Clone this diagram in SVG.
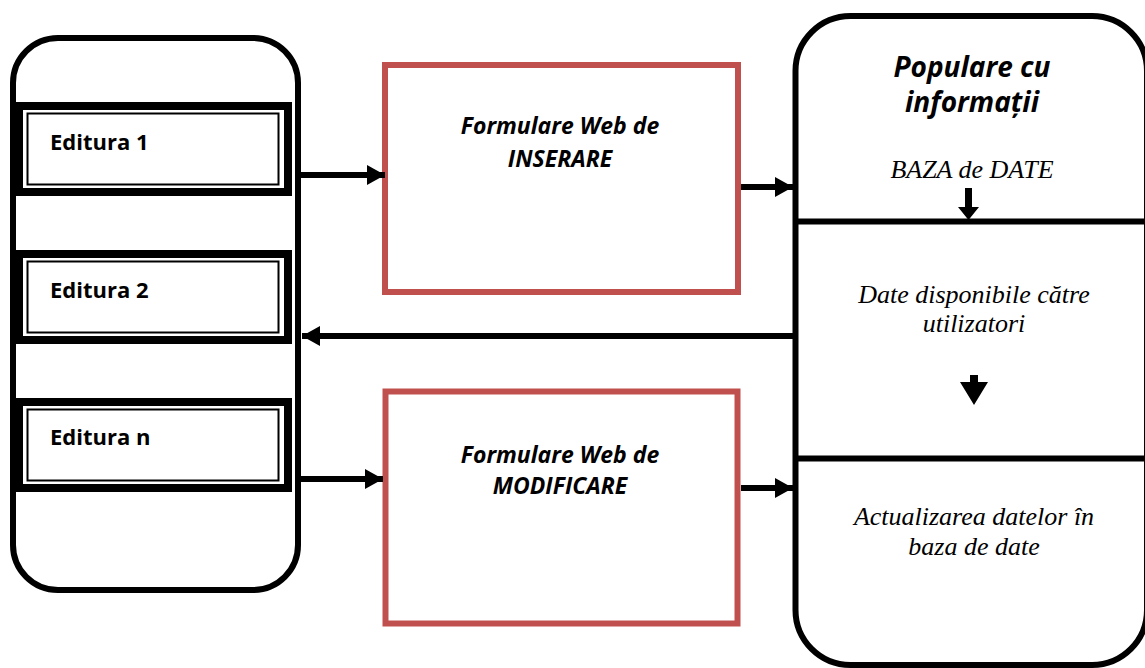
<svg xmlns="http://www.w3.org/2000/svg" width="1145" height="668" viewBox="0 0 1145 668">
<defs>
<style>
.frame{fill:#fff;stroke:#000;stroke-width:6}
.thick{fill:#fff;stroke:#000;stroke-width:8}
.thin{fill:none;stroke:#000;stroke-width:2}
.red{fill:#fff;stroke:#C0504D;stroke-width:6}
.conn{stroke:#000;stroke-width:6;fill:none}
.sans{font-family:"Open Sans","Liberation Sans",sans-serif;font-weight:bold;fill:#000}
.ed{font-size:22px}
.fw{font-size:23px;font-style:italic;text-anchor:middle}
.pop{font-size:28px;font-style:italic;text-anchor:middle}
.ser{font-family:"Liberation Serif","Times New Roman",serif;font-style:italic;font-size:26px;text-anchor:middle;fill:#000}
</style>
<marker id="ah" markerUnits="userSpaceOnUse" markerWidth="18" markerHeight="20" refX="18" refY="10" orient="auto" viewBox="0 0 18 20">
<path d="M0,0 L18,10 L0,20 Z" fill="#000"/>
</marker>
</defs>

<g id="left-panel">
<rect class="frame" x="13" y="38" width="285" height="552" rx="45" ry="45"/>
</g>

<g id="editura-1">
<rect class="thick" x="19" y="106" width="269" height="86"/>
<rect class="thin" x="27.5" y="113.5" width="251" height="71"/>
<text class="sans ed" x="50" y="150">Editura 1</text>
</g>

<g id="editura-2">
<rect class="thick" x="19" y="254" width="269" height="86"/>
<rect class="thin" x="27.5" y="261.5" width="251" height="71"/>
<text class="sans ed" x="50" y="298">Editura 2</text>
</g>

<g id="editura-n">
<rect class="thick" x="19" y="402" width="269" height="86"/>
<rect class="thin" x="27.5" y="409.5" width="251" height="71"/>
<text class="sans ed" x="50" y="445">Editura n</text>
</g>

<g id="formulare-inserare">
<rect class="red" x="385" y="65" width="353" height="227"/>
<text class="sans fw" x="560" y="134">Formulare Web de</text>
<text class="sans fw" x="560" y="167">INSERARE</text>
</g>

<g id="formulare-modificare">
<rect class="red" x="385.5" y="391.5" width="352" height="232"/>
<text class="sans fw" x="560" y="463">Formulare Web de</text>
<text class="sans fw" x="560" y="494">MODIFICARE</text>
</g>

<g id="baza-de-date">
<path class="frame" d="M850.5,16 H1092 A55,55 0 0 1 1147,71 V610 A55,55 0 0 1 1092,665 H850.5 A55,55 0 0 1 795.5,610 V71 A55,55 0 0 1 850.5,16 Z"/>
<line class="conn" x1="795.5" y1="221.5" x2="1147" y2="221.5"/>
<line class="conn" x1="795.5" y1="458.5" x2="1147" y2="458.5"/>
<text class="sans pop" x="972" y="77">Populare cu</text>
<text class="sans pop" x="972" y="112">informații</text>
<text class="ser" x="972" y="178">BAZA de DATE</text>
<text class="ser" x="974" y="303">Date disponibile către</text>
<text class="ser" x="974" y="332">utilizatori</text>
<text class="ser" x="974" y="525">Actualizarea datelor în</text>
<text class="ser" x="974" y="555">baza de date</text>
</g>

<g id="connectors">
<line class="conn" x1="301" y1="175" x2="385" y2="175" marker-end="url(#ah)"/>
<line class="conn" x1="741" y1="187" x2="793" y2="187" marker-end="url(#ah)"/>
<line class="conn" x1="793" y1="336" x2="302" y2="336" marker-end="url(#ah)"/>
<line class="conn" x1="301" y1="479" x2="383" y2="479" marker-end="url(#ah)"/>
<line class="conn" x1="741" y1="488" x2="793" y2="488" marker-end="url(#ah)"/>
<path d="M965,188 H972 V207 H979 L968.5,220 L958,207 H965 Z" fill="#000"/>
<path d="M970,375 H978 V382 H988 L974,405 L960,382 H970 Z" fill="#000"/>
</g>
</svg>
